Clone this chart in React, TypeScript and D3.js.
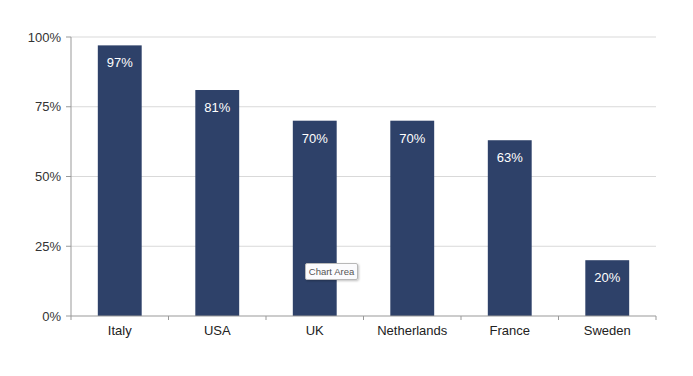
import React from "react";
import * as d3 from "d3";

const categories = ["Italy", "USA", "UK", "Netherlands", "France", "Sweden"];
const values = [0.97, 0.81, 0.7, 0.7, 0.63, 0.2];
const yTicks = [0, 0.25, 0.5, 0.75, 1];

const W = 693, H = 376;
const m = { left: 71, right: 37, top: 37, bottom: 60 };

export default function App() {
  const x = d3.scaleBand().domain(categories).range([m.left, W - m.right]).paddingInner(0.55).paddingOuter(0.275);
  const y = d3.scaleLinear().domain([0, 1]).range([H - m.bottom, m.top]);
  const fmt = d3.format(".0%");
  const step = x.step();
  const x0 = m.left;
  const font = "'Liberation Sans', Arial, sans-serif";
  return (
    <svg width={W} height={H} style={{ position: "absolute", left: 0, top: 0, background: "#fff" }}>
      <defs>
        <filter id="sh" x="-20%" y="-20%" width="150%" height="160%">
          <feDropShadow dx="1" dy="1" stdDeviation="1" floodColor="#000" floodOpacity="0.25" />
        </filter>
      </defs>
      {yTicks.map((t) => (
        <g key={t}>
          {t > 0 && <line x1={m.left} x2={W - m.right} y1={y(t)} y2={y(t)} stroke="#d9d9d9" strokeWidth={1} />}
          <line x1={m.left - 5} x2={m.left} y1={y(t)} y2={y(t)} stroke="#999" />
          <text x={m.left - 10} y={y(t) + 4.5} textAnchor="end" fontSize={13} fontFamily={font} fill="#333">{fmt(t)}</text>
        </g>
      ))}
      {categories.map((c, i) => (
        <g key={c}>
          <rect x={x(c)} y={y(values[i])} width={x.bandwidth()} height={y(0) - y(values[i])} fill="#2E4169" />
          <text x={x(c)! + x.bandwidth() / 2} y={y(values[i]) + 22} textAnchor="middle" fontSize={13} fontFamily={font} fill="#fff">{fmt(values[i])}</text>
          <text x={x0 + step * (i + 0.5)} y={335} textAnchor="middle" fontSize={13} fontFamily={font} fill="#222">{c}</text>
        </g>
      ))}
      {d3.range(categories.length + 1).map((i) => (
        <line key={i} x1={x0 + step * i} x2={x0 + step * i} y1={y(0)} y2={y(0) + 4} stroke="#999" />
      ))}
      <line x1={m.left} x2={m.left} y1={m.top} y2={y(0)} stroke="#999" />
      <line x1={m.left} x2={W - m.right} y1={y(0)} y2={y(0)} stroke="#999" />
      <g filter="url(#sh)">
        <rect x={305.5} y={263.5} width={52} height={16} fill="#fbfbfd" stroke="#b8b8b8" rx={1.5} />
      </g>
      <text x={331.5} y={275} textAnchor="middle" fontSize={9.5} fontFamily={font} fill="#555">Chart Area</text>
    </svg>
  );
}
